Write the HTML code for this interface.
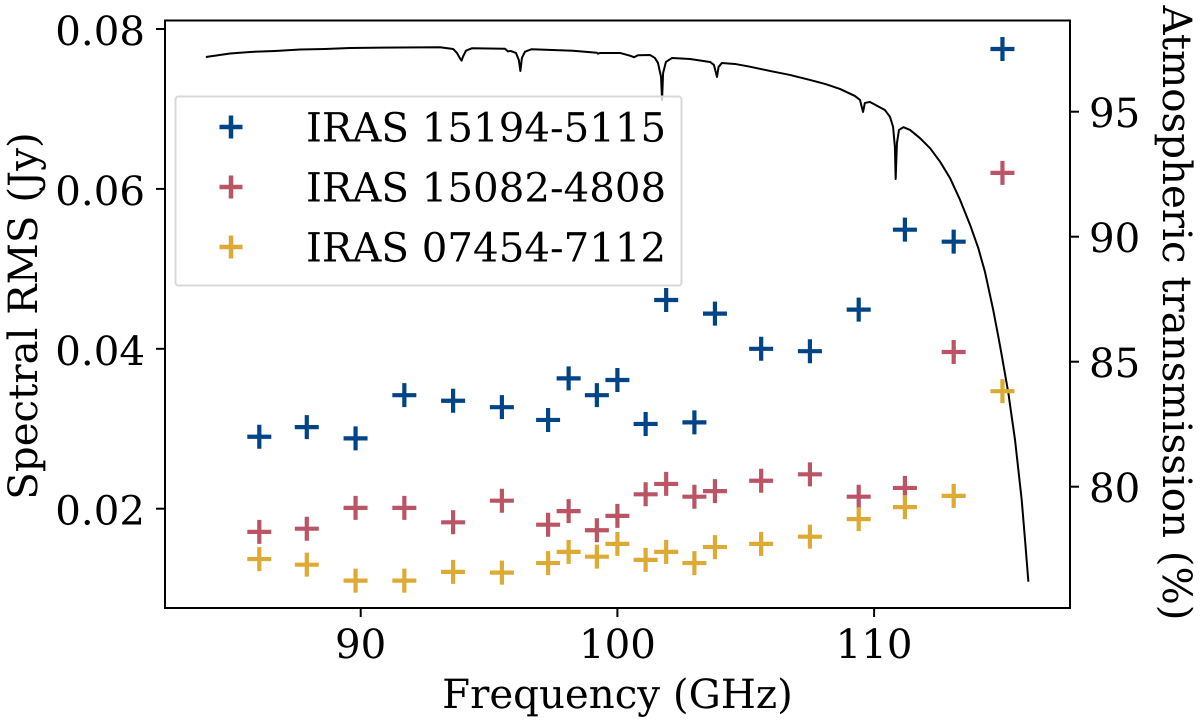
<!DOCTYPE html>
<html>
<head>
<meta charset="utf-8">
<title>Spectral RMS and atmospheric transmission</title>
<style>
html,body{margin:0;padding:0;background:#fff;width:1200px;height:723px;overflow:hidden}
svg{display:block}
text{font-family:"DejaVu Serif","Liberation Serif",serif;fill:#000;text-rendering:geometricPrecision}
</style>
</head>
<body>
<svg id="chart" width="1200" height="723" viewBox="0 0 1200 723" xmlns="http://www.w3.org/2000/svg">
  <g id="atm-layer"></g>
  <g id="points-layer"></g>
  <g id="axes-layer"></g>
  <g>
    <rect x="175.5" y="96.5" width="506" height="189" rx="3" fill="#fff" fill-opacity="0.8" stroke="#d8d8d8" stroke-width="2"/>
    <g>
      <path d="M219.5 127h23M231 115.5v23" stroke="#004488" stroke-width="4.5" fill="none"/>
      <text x="306" y="141.5" font-size="40.3">IRAS 15194-5115</text>
    </g>
    <g>
      <path d="M219.5 187h23M231 175.5v23" stroke="#BB5566" stroke-width="4.5" fill="none"/>
      <text x="306" y="201.5" font-size="40.3">IRAS 15082-4808</text>
    </g>
    <g>
      <path d="M219.5 247h23M231 235.5v23" stroke="#DDAA33" stroke-width="4.5" fill="none"/>
      <text x="306" y="261.5" font-size="40.3">IRAS 07454-7112</text>
    </g>
  </g>
</svg>
<script>
const frequencies = [86.05,87.9,89.8,91.7,93.6,95.5,97.3,98.1,99.2,100,101.1,101.9,103,103.8,105.6,107.5,109.4,111.2,113.1,115];
const rmsIras15194 = [.0290,.0302,.0288,.0342,.0335,.0327,.0311,.0363,.0342,.0361,.0306,.0461,.0308,.0444,.0400,.0397,.0449,.0549,.0534,.0775];
const rmsIras15082 = [.0171,.0175,.0201,.0201,.0183,.0210,.0180,.0197,.0173,.0191,.0218,.0231,.0215,.0222,.0235,.0243,.0215,.0226,.0396,.0620];
const rmsIras07454 = [.0137,.0130,.0110,.0110,.0121,.0120,.0132,.0146,.0140,.0156,.0136,.0146,.0132,.0152,.0156,.0165,.0187,.0202,.0216,.0347];
const atmFrequency = [83.97,84.91,85.69,86.66,87.64,88.61,89.58,91.53,93.09,93.60,93.75,93.87,93.93,93.98,94.10,94.34,95.62,95.74,95.84,96.05,96.16,96.22,96.28,96.40,96.66,98.27,99.20,99.24,99.32,100.10,100.49,100.65,100.80,101.27,101.46,101.58,101.70,101.74,101.78,101.89,102.13,102.83,103.61,103.76,103.88,103.94,104.07,104.58,105.16,105.94,106.72,107.50,108.09,108.67,109.25,109.45,109.57,109.64,109.84,110.42,110.62,110.74,110.81,110.84,110.89,110.97,111.14,111.40,111.79,112.18,112.57,112.96,113.35,113.74,114.06,114.32,114.64,114.84,114.97,115.23,115.36,115.49,115.62,115.75,115.88,116.01];
const atmTransmission = [97.19,97.33,97.39,97.43,97.49,97.51,97.55,97.57,97.58,97.51,97.35,97.13,97.04,97.19,97.44,97.54,97.52,97.41,97.43,97.35,97.07,96.63,97.15,97.40,97.50,97.44,97.36,97.32,97.35,97.35,97.24,97.18,97.26,97.27,97.15,96.95,96.39,95.47,96.55,96.99,97.15,97.11,96.99,96.87,96.39,96.79,96.95,96.91,96.80,96.63,96.47,96.27,96.11,95.91,95.63,95.47,94.99,95.35,95.39,95.07,94.79,94.39,93.59,92.31,93.75,94.27,94.38,94.27,93.94,93.54,93.00,92.34,91.47,90.47,89.54,88.59,87.07,86.00,85.27,83.75,82.80,81.87,80.67,79.47,77.87,76.20];
const xTickValues = [90,100,110];
const yLeftTickValues = [0.02,0.04,0.06,0.08];
const yRightTickValues = [80,85,90,95];

const NS = 'http://www.w3.org/2000/svg';
const plotLeft = 165, plotRight = 1070, plotTop = 20.5, plotBottom = 608;
function xScale(f){ return 360.7 + (f - 90) * 25.67; }
function yLeftScale(v){ return 508.7 - (v - 0.02) * 7995; }
function yRightScale(p){ return 486.7 - (p - 80) * 25; }
function make(tag, attrs){
  const el = document.createElementNS(NS, tag);
  for (const k in attrs) el.setAttribute(k, attrs[k]);
  return el;
}

const atmLayer = document.getElementById('atm-layer');
const atmLine = make('polyline', {
  points: atmFrequency.map((f, i) => xScale(f).toFixed(2) + ',' + yRightScale(atmTransmission[i]).toFixed(2)).join(' '),
  fill: 'none', stroke: '#000', 'stroke-width': 2, 'stroke-linejoin': 'round'
});


atmLayer.appendChild(atmLine);

const pointsLayer = document.getElementById('points-layer');
function drawSeries(values, colour, seriesName){
  const group = make('g', {stroke: colour, 'stroke-width': 4.2, fill: 'none'});
  
  
  values.forEach((v, i) => {
    const cx = xScale(frequencies[i]), cy = yLeftScale(v);
    const mark = make('path', {d: `M${cx - 12} ${cy}h24M${cx} ${cy - 12}v24`});
    
    
    group.appendChild(mark);
  });
  pointsLayer.appendChild(group);
}
drawSeries(rmsIras15194, '#004488', 'series-iras-15194');
drawSeries(rmsIras15082, '#BB5566', 'series-iras-15082');
drawSeries(rmsIras07454, '#DDAA33', 'series-iras-07454');

const axes = document.getElementById('axes-layer');
const frame = make('rect', {x: plotLeft, y: plotTop, width: plotRight - plotLeft, height: plotBottom - plotTop, fill: 'none', stroke: '#000', 'stroke-width': 2});


axes.appendChild(frame);

const fontSize = 40.3;
xTickValues.forEach(v => {
  const x = xScale(v);
  const tick = make('line', {x1: x, x2: x, y1: plotBottom, y2: plotBottom + 9, stroke: '#000', 'stroke-width': 2});
  
  
  axes.appendChild(tick);
  const label = make('text', {x: x, y: 658, 'font-size': fontSize, 'text-anchor': 'middle'});
  
  
  label.textContent = String(v);
  axes.appendChild(label);
});
yLeftTickValues.forEach(v => {
  const y = yLeftScale(v);
  const tick = make('line', {x1: plotLeft - 9, x2: plotLeft, y1: y, y2: y, stroke: '#000', 'stroke-width': 2});
  
  
  axes.appendChild(tick);
  const label = make('text', {x: 145, y: y + 16, 'font-size': fontSize, 'text-anchor': 'end'});
  
  
  label.textContent = v.toFixed(2);
  axes.appendChild(label);
});
yRightTickValues.forEach(v => {
  const y = yRightScale(v);
  const tick = make('line', {x1: plotRight, x2: plotRight + 9, y1: y, y2: y, stroke: '#000', 'stroke-width': 2});
  
  
  axes.appendChild(tick);
  const label = make('text', {x: 1089, y: y + 15.5, 'font-size': fontSize});
  
  
  label.textContent = String(v);
  axes.appendChild(label);
});

const xTitle = make('text', {x: 617.5, y: 708, 'font-size': fontSize, 'text-anchor': 'middle'});


xTitle.textContent = 'Frequency (GHz)';
axes.appendChild(xTitle);

const yTitle = make('text', {transform: 'translate(37,316) rotate(-90)', 'font-size': fontSize, 'text-anchor': 'middle'});


yTitle.textContent = 'Spectral RMS (Jy)';
axes.appendChild(yTitle);

const yRightTitle = make('text', {transform: 'translate(1163,313) rotate(90)', 'font-size': fontSize, 'text-anchor': 'middle'});


yRightTitle.textContent = 'Atmospheric transmission (%)';
axes.appendChild(yRightTitle);
</script>
</body>
</html>
